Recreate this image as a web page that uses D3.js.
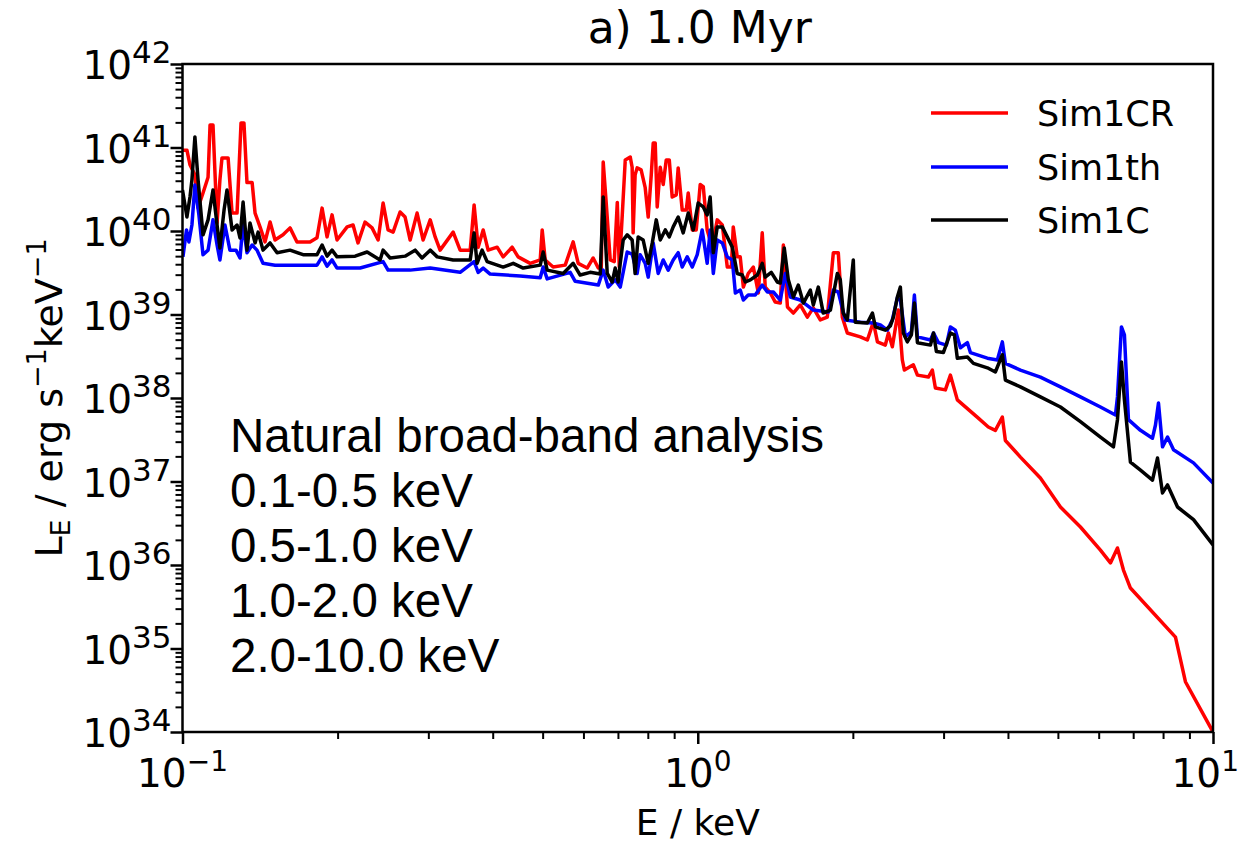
<!DOCTYPE html>
<html>
<head>
<meta charset="utf-8">
<script src="https://cdn.jsdelivr.net/npm/d3@7"></script>
<style>
  html, body { margin: 0; padding: 0; background: #ffffff; }
  svg { display: block; }
</style>
</head>
<body>
<svg id="chart" width="1240" height="845"></svg>
<script>
// Spectral luminosity L_E (erg s^-1 keV^-1) versus photon energy E (keV), at 1.0 Myr.
// Each series: [energy in keV, luminosity].

const sim1CR = [
  [0.1000, 9.3e40], [0.1020, 9.3e40], [0.1034, 6.2e40], [0.1057, 4.7e40], [0.1072, 1.9e40],
  [0.1096, 2.85e40], [0.1121, 4.4e40], [0.1131, 1.86e41], [0.1146, 1.86e41], [0.1167, 1.25e40],
  [0.1182, 4.1e40], [0.1193, 7.5e40], [0.1226, 7.5e40], [0.1248, 1.64e40], [0.1276, 1.64e40],
  [0.1299, 1.97e41], [0.1316, 1.97e41], [0.1334, 3.8e40], [0.1365, 3.8e40], [0.1383, 1.64e40],
  [0.1414, 1.12e40], [0.1446, 7.4e39], [0.1479, 1.28e40], [0.1512, 7.8e39], [0.1567, 9.0e39],
  [0.1617, 1.09e40], [0.1668, 7.4e39], [0.1768, 7.4e39], [0.1824, 8.3e39], [0.1866, 1.88e40],
  [0.1908, 8.5e39], [0.1951, 1.56e40], [0.1995, 7.8e39], [0.2087, 1.12e40], [0.2143, 1.18e40],
  [0.2191, 7.2e39], [0.2261, 1.28e40], [0.2333, 1.09e40], [0.2397, 7.8e39], [0.2451, 2.16e40],
  [0.2506, 1.03e40], [0.2563, 9.7e39], [0.2644, 1.69e40], [0.2704, 1.47e40], [0.2766, 7.8e39],
  [0.2853, 1.64e40], [0.2931, 7.8e39], [0.3025, 1.36e40], [0.3093, 8.5e39], [0.3162, 5.9e39],
  [0.3352, 9.7e39], [0.3458, 5.9e39], [0.3617, 5.9e39], [0.3681, 2.05e40], [0.3748, 6.4e39],
  [0.3833, 1.03e40], [0.3919, 5.9e39], [0.4080, 6.4e39], [0.4191, 4.9e39], [0.4363, 6.4e39],
  [0.4481, 4.9e39], [0.4729, 4.1e39], [0.4946, 4.5e39], [0.4990, 1.03e40], [0.5057, 4.5e39],
  [0.5240, 3.7e39], [0.5530, 3.9e39], [0.5731, 7.4e39], [0.5861, 4.1e39], [0.6100, 3.6e39],
  [0.6266, 4.75e39], [0.6411, 3.6e39], [0.6497, 3.6e39], [0.6554, 6.7e40], [0.6643, 2.16e40],
  [0.6763, 4.5e39], [0.6886, 4.3e39], [0.6980, 2.2e40], [0.7042, 3.7e39], [0.7137, 1.56e40],
  [0.7233, 7.1e40], [0.7396, 7.7e40], [0.7459, 5.8e40], [0.7492, 9.5e39], [0.7559, 4.7e40],
  [0.7627, 5.7e40], [0.7764, 5.4e40], [0.7907, 3.3e40], [0.8014, 1.47e40], [0.8124, 4.7e40],
  [0.8195, 1.13e41], [0.8269, 1.13e41], [0.8343, 1.94e40], [0.8457, 5.8e40], [0.8570, 3.6e40],
  [0.8686, 7.1e40], [0.8805, 7.1e40], [0.8921, 2.55e40], [0.9083, 2.7e40], [0.9163, 5.7e40],
  [0.9330, 1.78e40], [0.9500, 1.78e40], [0.9583, 2.85e40], [0.9757, 1.03e40], [0.9933, 1.03e40],
  [1.011, 3.6e40], [1.025, 3.4e40], [1.043, 1.03e40], [1.067, 6.4e39], [1.091, 1.36e40],
  [1.116, 1.18e40], [1.141, 3.7e39], [1.162, 3.7e39], [1.172, 1.12e40], [1.193, 4.9e39],
  [1.209, 4.9e39], [1.226, 2.13e39], [1.253, 3.1e39], [1.282, 3.7e39], [1.311, 1.81e39],
  [1.334, 9.5e39], [1.352, 2.13e39], [1.383, 1.81e39], [1.414, 1.41e39], [1.446, 1.37e39],
  [1.466, 6.8e39], [1.493, 1.23e39], [1.533, 1.04e39], [1.581, 1.3e39], [1.632, 9.3e38],
  [1.676, 1.2e39], [1.729, 8.6e38], [1.784, 9.3e38], [1.833, 5.5e39], [1.874, 5.5e39],
  [1.908, 9.3e38], [1.951, 6.0e38], [2.068, 5.4e38], [2.134, 4.95e38], [2.192, 8.1e38],
  [2.232, 4.7e38], [2.312, 4.3e38], [2.345, 6.0e38], [2.386, 4.1e38], [2.451, 1.13e39],
  [2.495, 2.85e38], [2.518, 2.16e38], [2.621, 2.5e38], [2.669, 1.88e38], [2.803, 1.78e38],
  [2.853, 2.16e38], [2.892, 1.32e38], [3.024, 1.25e38], [3.093, 1.88e38], [3.190, 9.5e37],
  [3.486, 5.9e37], [3.664, 4.5e37], [3.781, 4.1e37], [3.901, 5.9e37], [3.954, 3.1e37],
  [4.229, 1.96e37], [4.624, 1.1e37], [5.057, 4.95e36], [5.530, 2.85e36], [6.047, 1.51e36],
  [6.324, 1.06e36], [6.525, 1.6e36], [6.702, 8.7e35], [6.914, 5.3e35], [8.456, 1.37e35],
  [8.840, 4.0e34], [10.0, 1.0e34]
];

const sim1th = [
  [0.1002, 4.9e39], [0.1018, 1.03e40], [0.1029, 7.4e39], [0.1043, 1.18e40], [0.1057, 3.56e40],
  [0.1076, 1.56e40], [0.1096, 5.2e39], [0.1121, 5.9e39], [0.1146, 1.36e40], [0.1167, 6.8e39],
  [0.1182, 4.5e39], [0.1209, 1.18e40], [0.1236, 5.9e39], [0.1270, 5.9e39], [0.1293, 4.75e39],
  [0.1311, 1.25e40], [0.1334, 5.5e39], [0.1365, 6.8e39], [0.1395, 5.9e39], [0.1433, 4.1e39],
  [0.1512, 3.9e39], [0.1691, 3.9e39], [0.1824, 3.9e39], [0.1866, 4.9e39], [0.1908, 3.8e39],
  [0.1951, 4.5e39], [0.1995, 3.6e39], [0.2212, 3.6e39], [0.2451, 4.3e39], [0.2506, 3.4e39],
  [0.2766, 3.4e39], [0.3025, 3.6e39], [0.3458, 3.2e39], [0.3681, 4.3e39], [0.3748, 3.2e39],
  [0.3833, 3.6e39], [0.3955, 3.05e39], [0.4522, 2.9e39], [0.4946, 2.75e39], [0.5012, 3.7e39],
  [0.5102, 2.67e39], [0.5655, 3.2e39], [0.5783, 2.5e39], [0.6411, 2.25e39], [0.6554, 3.4e39],
  [0.6702, 2.13e39], [0.6915, 2.6e39], [0.7072, 2.13e39], [0.7295, 5.6e39], [0.7459, 5.3e39],
  [0.7627, 3.1e39], [0.7729, 5.2e39], [0.7907, 4.1e39], [0.8014, 2.8e39], [0.8195, 7.2e39],
  [0.8380, 3.1e39], [0.8570, 4.5e39], [0.8763, 3.4e39], [0.8961, 4.5e39], [0.9163, 5.5e39],
  [0.9330, 3.7e39], [0.9540, 4.9e39], [0.9757, 3.7e39], [0.9977, 5.2e39], [1.020, 1.03e40],
  [1.043, 4.1e39], [1.057, 1.03e40], [1.072, 3.1e39], [1.091, 7.8e39], [1.116, 7.2e39],
  [1.141, 4.9e39], [1.167, 4.5e39], [1.183, 1.81e39], [1.209, 1.96e39], [1.226, 1.49e39],
  [1.253, 1.71e39], [1.293, 1.71e39], [1.334, 2.25e39], [1.365, 1.86e39], [1.402, 1.86e39],
  [1.446, 1.49e39], [1.479, 3.1e39], [1.512, 1.62e39], [1.581, 1.49e39], [1.676, 1.13e39],
  [1.793, 1.07e39], [1.833, 1.96e39], [1.874, 1.86e39], [1.934, 8.6e38], [2.068, 8.1e38],
  [2.192, 7.9e38], [2.262, 7.5e38], [2.333, 6.5e38], [2.386, 8.6e38], [2.440, 1.58e39],
  [2.473, 1.49e39], [2.529, 5.4e38], [2.598, 6.2e38], [2.633, 1.71e39], [2.669, 5.4e38],
  [2.829, 4.95e38], [2.868, 6.0e38], [2.931, 4.6e38], [3.038, 4.3e38], [3.093, 7.1e38],
  [3.162, 6.5e38], [3.234, 4.0e38], [3.337, 4.6e38], [3.382, 3.5e38], [3.648, 3.0e38],
  [3.815, 2.85e38], [3.901, 4.7e38], [3.954, 2.6e38], [4.229, 2.16e38], [4.624, 1.78e38],
  [5.057, 1.36e38], [5.530, 1.03e38], [6.047, 7.8e37], [6.467, 6.25e37], [6.525, 1.03e38],
  [6.642, 7.1e38], [6.731, 5.7e38], [6.853, 5.5e37], [7.232, 4.1e37], [7.630, 3.3e37],
  [7.733, 4.75e37], [7.838, 8.7e37], [7.980, 2.6e37], [8.161, 3.4e37], [8.383, 2.4e37],
  [9.166, 1.67e37], [10.0, 9.6e36]
];

const sim1C = [
  [0.1000, 3.1e40], [0.1020, 1.47e40], [0.1034, 2.55e40], [0.1043, 4.1e40], [0.1057, 1.34e41],
  [0.1072, 4.1e40], [0.1096, 9.0e39], [0.1121, 1.36e40], [0.1146, 3.1e40], [0.1167, 1.18e40],
  [0.1182, 6.25e39], [0.1204, 1.78e40], [0.1220, 3.1e40], [0.1248, 1.03e40], [0.1276, 1.18e40],
  [0.1293, 8.25e39], [0.1311, 2.22e40], [0.1334, 5.9e39], [0.1352, 1.25e40], [0.1383, 7.2e39],
  [0.1402, 9.7e39], [0.1433, 5.9e39], [0.1479, 7.2e39], [0.1526, 5.5e39], [0.1617, 5.9e39],
  [0.1714, 5.2e39], [0.1824, 5.2e39], [0.1866, 6.8e39], [0.1908, 5.0e39], [0.1951, 5.9e39],
  [0.1995, 4.9e39], [0.2163, 5.0e39], [0.2282, 5.6e39], [0.2418, 4.5e39], [0.2451, 5.9e39],
  [0.2529, 4.75e39], [0.2704, 5.0e39], [0.2828, 5.9e39], [0.2917, 4.75e39], [0.3025, 5.9e39],
  [0.3121, 4.9e39], [0.3352, 4.5e39], [0.3617, 4.5e39], [0.3681, 9.5e39], [0.3730, 4.1e39],
  [0.3815, 5.9e39], [0.3901, 4.3e39], [0.4191, 3.7e39], [0.4384, 4.1e39], [0.4584, 3.6e39],
  [0.4946, 3.9e39], [0.5012, 5.6e39], [0.5102, 3.4e39], [0.5481, 3.1e39], [0.5731, 4.1e39],
  [0.5913, 2.97e39], [0.6184, 3.2e39], [0.6467, 3.05e39], [0.6554, 2.55e40], [0.6673, 3.1e39],
  [0.6823, 2.45e39], [0.6915, 3.6e39], [0.7007, 2.45e39], [0.7072, 4.1e39], [0.7167, 7.8e39],
  [0.7295, 9.0e39], [0.7459, 7.8e39], [0.7559, 3.1e39], [0.7662, 8.5e39], [0.7836, 7.8e39],
  [0.8014, 4.1e39], [0.8161, 7.2e39], [0.8308, 1.36e40], [0.8457, 7.8e39], [0.8649, 1.03e40],
  [0.8805, 8.5e39], [0.8961, 1.12e40], [0.9163, 1.47e40], [0.9371, 9.5e39], [0.9583, 1.64e40],
  [0.9802, 1.03e40], [1.002, 2.16e40], [1.025, 1.94e40], [1.043, 1.56e40], [1.057, 2.55e40],
  [1.072, 5.5e39], [1.091, 1.12e40], [1.116, 1.12e40], [1.141, 8.5e39], [1.167, 6.4e39],
  [1.193, 3.1e39], [1.220, 2.97e39], [1.237, 2.45e39], [1.265, 2.6e39], [1.305, 2.97e39],
  [1.334, 4.1e39], [1.352, 2.8e39], [1.389, 3.2e39], [1.427, 2.45e39], [1.446, 2.38e39],
  [1.472, 6.25e39], [1.499, 2.6e39], [1.533, 1.62e39], [1.567, 2.25e39], [1.603, 1.37e39],
  [1.654, 1.96e39], [1.676, 1.3e39], [1.714, 2.13e39], [1.752, 1.04e39], [1.809, 1.13e39],
  [1.866, 3.1e39], [1.891, 2.6e39], [1.916, 1.04e39], [1.951, 8.6e38], [2.004, 4.5e39],
  [2.022, 8.1e38], [2.134, 7.9e38], [2.183, 1.04e39], [2.212, 7.1e38], [2.312, 6.5e38],
  [2.365, 7.3e38], [2.397, 9.3e38], [2.440, 1.62e39], [2.473, 2.13e39], [2.506, 6.0e38],
  [2.551, 4.7e38], [2.598, 5.7e38], [2.633, 1.37e39], [2.669, 4.6e38], [2.829, 4.3e38],
  [2.868, 6.0e38], [2.905, 3.6e38], [2.997, 3.5e38], [3.093, 6.0e38], [3.148, 5.7e38],
  [3.190, 3.0e38], [3.337, 3.1e38], [3.428, 2.6e38], [3.648, 2.3e38], [3.781, 2.05e38],
  [3.901, 3.3e38], [3.954, 1.64e38], [4.229, 1.36e38], [4.624, 1.03e38], [5.057, 7.8e37],
  [5.530, 5.2e37], [6.047, 3.4e37], [6.409, 2.6e37], [6.525, 5.5e37], [6.642, 2.7e38],
  [6.731, 9.5e37], [6.914, 1.71e37], [7.232, 1.37e37], [7.630, 1.04e37], [7.803, 1.91e37],
  [7.980, 7.3e36], [8.161, 9.1e36], [8.534, 4.95e36], [9.166, 3.5e36], [10.0, 1.74e36]
];

const seriesNames = ["Sim1CR", "Sim1th", "Sim1C"];
const seriesColors = ["#ff0000", "#0000ff", "#000000"];
const seriesData = [sim1CR, sim1th, sim1C];

const xTickExponents = [-1, 0, 1];
const yTickExponents = [34, 35, 36, 37, 38, 39, 40, 41, 42];
const bandLines = [
  "Natural broad-band analysis",
  "0.1-0.5 keV",
  "0.5-1.0 keV",
  "1.0-2.0 keV",
  "2.0-10.0 keV"
];
const titleText = "a) 1.0 Myr";

// ---- layout ----
const plot = { left: 182.5, right: 1213, top: 64, bottom: 732 };
const FONT = "'DejaVu Sans', Verdana, sans-serif";

const svg = d3.select("#chart");

const x = d3.scaleLog().domain([0.1, 10]).range([plot.left, plot.right]);
const y = d3.scaleLog().domain([1e34, 1e42]).range([plot.bottom, plot.top]);

// minor tick values for each decade
function minorTicks(lo, hi) {
  const out = [];
  for (let e = lo; e < hi; e++) {
    for (let k = 2; k <= 9; k++) out.push(k * Math.pow(10, e));
  }
  return out;
}

// ---- curves (clipped to the axes box) ----
svg.append("clipPath").attr("id", "plot-clip")
  .append("rect")
  .attr("x", plot.left).attr("y", plot.top)
  .attr("width", plot.right - plot.left).attr("height", plot.bottom - plot.top);

const line = d3.line()
  .x(d => x(d[0]))
  .y(d => y(d[1]));

const curves = svg.append("g").attr("clip-path", "url(#plot-clip)");
seriesData.forEach((data, i) => {
  curves.append("path")
    .datum(data)
    .attr("d", line)
    .attr("fill", "none")
    .attr("stroke", seriesColors[i])
    .attr("stroke-width", 3.5)
    .attr("stroke-linejoin", "round")
    .attr("stroke-linecap", "butt");
});

// ---- axes ticks ----
function styleAxis(g, width) {
  g.select(".domain").remove();
  g.selectAll(".tick line").attr("stroke", "#000").attr("stroke-width", width);
  g.selectAll(".tick text").remove();
}

svg.append("g")
  .attr("transform", `translate(0,${plot.bottom})`)
  .call(d3.axisBottom(x).tickValues(minorTicks(-1, 1)).tickSize(7).tickFormat(""))
  .call(g => styleAxis(g, 2));
svg.append("g")
  .attr("transform", `translate(0,${plot.bottom})`)
  .call(d3.axisBottom(x).tickValues(xTickExponents.map(e => Math.pow(10, e))).tickSize(12).tickFormat(""))
  .call(g => styleAxis(g, 2.5));

svg.append("g")
  .attr("transform", `translate(${plot.left},0)`)
  .call(d3.axisLeft(y).tickValues(minorTicks(34, 42)).tickSize(7).tickFormat(""))
  .call(g => styleAxis(g, 2));
svg.append("g")
  .attr("transform", `translate(${plot.left},0)`)
  .call(d3.axisLeft(y).tickValues(yTickExponents.map(e => Math.pow(10, e))).tickSize(12).tickFormat(""))
  .call(g => styleAxis(g, 2.5));

// ---- frame ----
svg.append("rect")
  .attr("x", plot.left).attr("y", plot.top)
  .attr("width", plot.right - plot.left).attr("height", plot.bottom - plot.top)
  .attr("fill", "none").attr("stroke", "#000").attr("stroke-width", 2.5);

// ---- tick labels: 10 with superscript exponent ----
function powerLabel(sel, exp, supSize) {
  sel.append("tspan").text("10");
  sel.append("tspan")
    .attr("dy", -16)
    .attr("font-size", supSize)
    .text(exp < 0 ? "\u2212" + Math.abs(exp) : String(exp));
}

yTickExponents.forEach(e => {
  const t = svg.append("text")
    .attr("x", plot.left - 11)
    .attr("y", y(Math.pow(10, e)) + 15)
    .attr("text-anchor", "end")
    .attr("font-family", FONT)
    .attr("font-size", 39)
    .attr("fill", "#000");
  powerLabel(t, e, 31);
});

xTickExponents.forEach(e => {
  const isLast = e === xTickExponents[xTickExponents.length - 1];
  const t = svg.append("text")
    .attr("x", isLast ? 1239 : x(Math.pow(10, e)))
    .attr("y", 787)
    .attr("text-anchor", isLast ? "end" : "middle")
    .attr("font-family", FONT)
    .attr("font-size", 39)
    .attr("fill", "#000");
  powerLabel(t, e, 28);
});

// ---- axis titles ----
svg.append("text")
  .attr("x", (plot.left + plot.right) / 2)
  .attr("y", 835)
  .attr("text-anchor", "middle")
  .attr("font-family", FONT)
  .attr("font-size", 36)
  .attr("fill", "#000")
  .text("E / keV");

const yl = svg.append("text")
  .attr("transform", `translate(62,${(plot.top + plot.bottom) / 2}) rotate(-90)`)
  .attr("text-anchor", "middle")
  .attr("font-family", FONT)
  .attr("font-size", 38)
  .attr("fill", "#000");
yl.append("tspan").text("L");
yl.append("tspan").attr("dy", 8).attr("font-size", 27).text("E");
yl.append("tspan").attr("dy", -8).text(" / erg s");
yl.append("tspan").attr("dy", -16).attr("font-size", 27).text("\u22121");
yl.append("tspan").attr("dy", 16).text("keV");
yl.append("tspan").attr("dy", -16).attr("font-size", 27).text("\u22121");

// ---- title ----
svg.append("text")
  .attr("x", (plot.left + plot.right) / 2 + 2)
  .attr("y", 43)
  .attr("text-anchor", "middle")
  .attr("font-family", FONT)
  .attr("font-size", 44)
  .attr("fill", "#000")
  .text(titleText);

// ---- legend ----
const legendY = [113, 167, 220];
seriesNames.forEach((name, i) => {
  svg.append("line")
    .attr("x1", 931).attr("x2", 1008)
    .attr("y1", legendY[i]).attr("y2", legendY[i])
    .attr("stroke", seriesColors[i])
    .attr("stroke-width", 3.5);
  svg.append("text")
    .attr("x", 1037)
    .attr("y", legendY[i] + 13)
    .attr("font-family", FONT)
    .attr("font-size", 35)
    .attr("fill", "#000")
    .text(name);
});

// ---- band annotation ----
const band = svg.append("text")
  .attr("font-family", "'Liberation Sans', Arial, sans-serif")
  .attr("font-size", 47.5)
  .attr("fill", "#000");
bandLines.forEach((s, i) => {
  band.append("tspan")
    .attr("x", 230)
    .attr("y", 452 + i * 55)
    .text(s);
});
</script>
</body>
</html>
